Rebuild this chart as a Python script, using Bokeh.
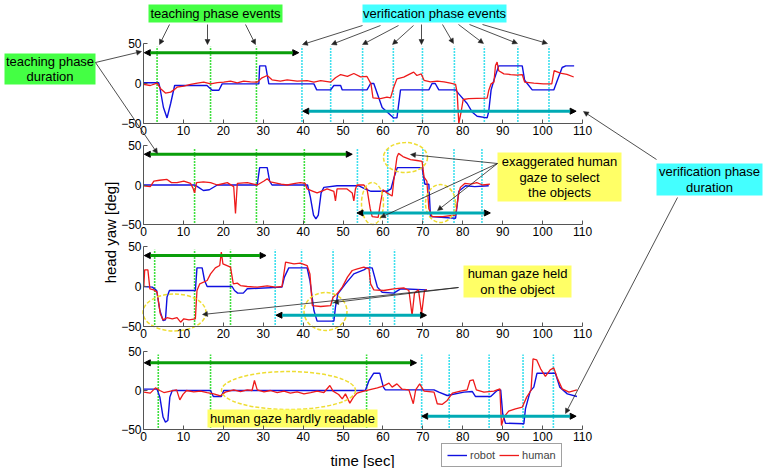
import numpy as np
from bokeh.plotting import figure
from bokeh.models import (Range1d, LinearAxis, FixedTicker, Arrow, NormalHead,
                          Legend, LegendItem)
from bokeh.core.properties import value
from bokeh.embed import file_html
from bokeh.resources import INLINE

FONT = "Liberation Sans"

# ------------------------------------------------------------------ data
x_ticks = [0, 10, 20, 30, 40, 50, 60, 70, 80, 90, 100, 110]
y_ticks = [-50, 0, 50]

# panel 1
p1_robot_t = [0, 3.8, 4.1, 5.0, 5.9, 6.8, 7.8, 15.9, 17.2, 18.9, 19.7, 28.9, 29.1, 30.6, 31.4,
              42.7, 43.4, 46.9, 47.7, 49.4, 49.8, 56.0, 56.9, 57.7, 59.8, 62.7, 63.5, 64.4,
              71.5, 72.3, 73.1, 74.0, 78.2, 79.0, 81.1, 82.4, 83.6, 86.1, 86.5, 87.1, 87.8,
              89.0, 94.9, 95.5, 97.4, 102.8, 103.7, 104.9, 105.8, 107.9]
p1_robot = [1, 1, -5, -30, -43, -25, -2.5, -2.5, -8.5, -8.5, -0.5, -0.5, 22, 22, -0.5,
            -0.5, -8, -8, -2.5, -2.5, -8, -8, 0, 0, -30, -43, -43, -8,
            -8, 0, 0, -8, -8, -13, -25, -36, -41, -43, -35, -8, 4,
            22, 22, 4, -8, -8, 4, 20, 22, 22]
p1_human_t = [0.0, 1.7, 3.4, 4.3, 5.5, 6.8, 7.6, 8.4, 10.1, 11.8, 13.5, 15.1, 16.8, 18.5, 20.1,
              21.8, 23.5, 25.1, 26.8, 28.5, 29.7, 31.0, 32.2, 34.3, 36.0, 38.5, 41.0, 42.7,
              44.4, 46.9, 48.1, 49.4, 51.1, 52.7, 54.4, 56.0, 57.0, 57.5, 59.4, 61.0, 61.9,
              62.7, 63.5, 65.2, 66.8, 67.7, 68.5, 69.6, 70.3, 71.9, 73.6, 75.3, 76.9, 78.2,
              78.6, 79.0, 79.6, 80.1, 81.5, 83.5, 86.1, 86.5, 87.1, 87.8, 88.2, 88.6, 89.0,
              90.3, 92.0, 93.6, 94.9, 95.5, 97.8, 100.2, 102.3, 102.9, 104.4, 106.1, 107.8]
p1_human = [-1.2, -2.5, 0.4, -6.5, -12, -10.8, -8, -4.6, -3.3, -1.2, 0.4, 1.7, -0.4, 1.2, 1.7,
            2.9, 0.8, 2.9, 2.1, 1.7, 7.1, 10, 4.6, 2.9, 4.6, 2.9, 3.7, 1.7,
            3.7, 1.7, 7.1, 11.2, 8.8, 12.5, 8.3, 8.8, -0.4, -18, -19, -17, -18,
            -4.6, 5.8, 7.9, 12.1, 14.2, 10, 12, 4, 2, 3, 2, 0.4, -1,
            -12, -50, -35, -20, -19, -18.5, -18.3, -8.8, -0.4, 1.7, 22.5, 26.7, 16,
            12.1, 11.2, 10.4, 11.2, 1.7, 0.4, -0.4, -0.4, 16.2, 13, 11.5, 8.1]
p1_teach_events = [3.4, 16.8, 28.3]
p1_verif_events = [39.7, 46.9, 54.9, 62.6, 69.9, 77.9, 85.4, 93.8, 101.6]
p1_teach_span = [0.2, 38.9]
p1_verif_span = [39.9, 108.4]

# panel 2
p2_robot_t = [0, 12.9, 13.8, 15.0, 16.5, 18.5, 28.5, 29.1, 31.0, 31.6, 32.2, 41.1, 41.8, 42.6,
              43.2, 43.8, 44.5, 45.2, 48.5, 54.0, 55.5, 57.0, 61.0, 62.0, 62.8, 63.6, 69.8,
              70.2, 70.5, 71.5, 71.9, 78.2, 79.0, 80.7, 83.0, 86.5]
p2_robot = [0, 0, -3, -7, -6, 0, 0, 22, 22, 5, 0, 0, -15, -38,
            -43, -38, -10, -3, -1, -1, -5, -8, -8, -5, 10, 22, 22,
            10, 1, 1, -40, -42, -8, -1, -2, -1]
p2_human_t = [0.0, 1.7, 2.6, 4.0, 5.9, 7.0, 8.4, 10.1, 11.8, 12.4, 12.8, 13.3, 15.0, 16.8, 18.5,
              21.0, 22.6, 23.05, 23.5, 26.0, 28.5, 30.2, 31.0, 31.8, 32.7, 34.5, 36.0, 38.0,
              39.3, 40.5, 41.0, 42.5, 43.5, 45.0, 46.0, 47.7, 48.1, 48.5, 51.0, 52.3, 52.7,
              53.1, 53.5, 55.2, 56.0, 56.8, 57.3, 58.8, 59.3, 60.0, 61.0, 62.3, 62.7, 63.5,
              63.9, 65.0, 66.9, 68.5, 69.8, 70.3, 71.0, 71.5, 72.3, 75.0, 78.2, 79.0, 79.4,
              80.5, 82.0, 83.5, 85.0, 86.8]
p2_human = [-1, -2, 5, 6, 7, 3, 3, 5, 2, -4, -10, 3, 4, 3, 0,
            3, -2, -36, 2, 3, 0, 5, 8, 4, 3, 1, 0, 2,
            3, 2, -5, -8, -10, -7, -5, -8, -20, -5, -5, -10, -20,
            -5, 0, 0, -5, -30, -40, -41, -25, -6, -10, -14, 5, 35,
            40, 36, 32, 31, 30, 10, 5, -30, -40, -40, -38, -10, -3,
            2, 1, 3, 0, 1]
p2_teach_events = [12.8, 28.3, 40.3]
p2_verif_events = [53.6, 61.2, 70.0, 77.8, 84.8]
p2_teach_span = [0.2, 52.3]
p2_verif_span = [53.5, 86.9]

# panel 3
p3_robot_t = [0, 2.2, 3.3, 4.1, 4.9, 5.5, 5.9, 6.5, 13.0, 13.4, 14.7, 15.3, 15.95, 22.2, 22.8,
              23.6, 25.0, 26.0, 34.7, 35.3, 36.4, 41.0, 41.7, 42.7, 43.5, 47.7, 48.1, 48.7,
              50.6, 52.7, 55.2, 56.0, 57.3, 58.6, 59.8, 62.7, 64.4, 71.0]
p3_robot = [0, -0.8, -5, -30, -42.5, -41.7, -13, -5, -5, 23.3, 23.3, 7.5, 0, 0, -5,
            -8.3, -8.3, -2.9, -0.8, 11.7, 23.3, 23.3, 7.5, -30, -43.3, -43.3, -25.8, -9.2,
            3.3, 15.8, 20.8, 23.3, 23.3, -0.8, -7.1, -8.3, -2.9, -4.2]
p3_human_t = [0.08, 0.3, 1.1, 1.6, 2.6, 3.4, 4.2, 4.9, 5.9, 7.2, 8.4, 9.3, 10.1, 11.4, 13.0,
              13.4, 14.1, 15.95, 16.8, 18.0, 19.1, 19.5, 19.9, 21.8, 22.5, 23.5, 24.3, 26.0,
              28.5, 31.0, 33.1, 34.7, 35.6, 37.7, 39.3, 41.0, 41.7, 42.3, 44.4, 46.9, 47.5,
              48.5, 49.8, 51.1, 52.3, 53.6, 55.2, 56.5, 56.9, 57.7, 60.2, 62.7, 65.2, 66.5,
              67.3, 67.9, 68.9, 69.7, 70.4, 71.0]
p3_human = [0, 20.8, 20.8, -2.9, -4.2, -7, -34, -41.7, -39, -40.4, -39, -44.6, -40.4, -41.7, -40.4,
            -5, 3.3, 7.5, 15.8, 23.3, 26.2, 42.9, 28.3, 24.2, 3.3, 4.2, 1.2, 0,
            -0.8, 0.8, -0.8, 0, 30.4, 28.3, 29.2, 26.2, 15.8, -23.8, -25, -23.8, -13.3,
            -9.2, -0.8, 11.7, 20, 22, 24.2, 22, 3.3, -4.2, -5, -3, -1.7, -5,
            -36, -8, -4.2, -34, -5, -4]
p3_teach_events = [2.8, 12.8, 21.8]
p3_verif_events = [33.0, 39.6, 47.5, 56.7, 62.9]
p3_teach_span = [0.2, 30.7]
p3_verif_span = [33.2, 70.9]

# panel 4
p4_robot_t = [0, 3.4, 4.1, 4.9, 5.5, 6.1, 6.6, 7.2, 16.8, 17.5, 19.5, 20.1, 55.6, 56.5, 57.7,
              59.2, 60.1, 60.6, 72.8, 74.0, 76.1, 80.3, 82.4, 83.2, 87.0, 88.6, 89.5, 90.0,
              90.7, 95.3, 95.7, 96.9, 97.8, 98.6, 103.2, 104.3, 106.2, 108.6]
p4_robot = [1.7, 1.7, -8.5, -34, -40.6, -38.5, -8.5, 0, 0, -7.7, -7.7, 0, 0, 12.8, 22.2,
            22.2, 4.3, 0.8, 0.8, -2.1, -6.4, -2.1, -1.3, -7.7, -7.7, 0, 0.8, -29.9,
            -41.9, -42.7, -23.5, -0.8, 4.3, 22.2, 22.2, 4.3, -4.3, -7.7]
p4_human_t = [0.08, 1.7, 3.0, 4.1, 5.1, 6.8, 8.3, 9.1, 9.9, 10.8, 12.6, 14.3, 15.95, 17.6, 19.3,
              20.5, 22.6, 24.3, 26.0, 27.2, 27.8, 28.5, 30.2, 31.8, 33.5, 35.2, 36.8, 38.5,
              40.2, 41.9, 43.5, 45.2, 46.7, 47.5, 48.9, 49.8, 50.6, 51.7, 52.6, 53.5, 55.2,
              56.5, 58.6, 60.2, 61.5, 62.3, 63.5, 64.8, 66.5, 67.6, 68.2, 69.2, 70.1, 70.3,
              72.8, 73.6, 74.8, 76.1, 77.4, 79.4, 81.1, 81.8, 82.6, 83.4, 85.3, 87.8, 89.3,
              89.7, 90.3, 91.5, 93.2, 94.9, 96.0, 97.1, 97.6, 98.5, 99.5, 100.7, 101.9, 102.8,
              103.6, 104.9, 106.6, 108.6]
p4_human = [-2.1, -3.4, 3.4, 0, -2.6, -0.8, 0.8, -12, -5, 0, -1.7, -0.8, -2.6, -4.3, -6.8,
            -2.1, 0.8, -1.3, 0.8, 0, 12.8, 0.8, -1.7, 0, -2.6, -0.8, -3.4, -1.7,
            -4.3, -2.6, -0.8, -2.6, 6.4, -0.8, -5.1, -10.7, -4.3, -16.2, -8.5, -3.4, -0.8,
            0.8, 3.4, 6, 9.4, 4.3, 8.5, 1.7, 0.8, -17, 0.8, 8.5, 0.8, -0.8,
            -2.1, -17, -17.9, -12.8, -3.4, -0.8, 0.8, 12.8, 13.7, 0.8, -2.1, -0.8, 2.1,
            -44.9, -34.2, -26.5, -23.5, -21.4, -8.5, 0, 40.6, 39.3, 27.8, 18, 26.5, 29,
            17.1, 2.1, -2.1, 0.8]
p4_teach_events = [3.7, 16.8, 55.9]
p4_verif_events = [69.7, 76.6, 86.6, 95.1, 102.7]
p4_teach_span = [0.2, 68.4]
p4_verif_span = [69.7, 108.4]

panels = [
    (p1_robot_t, p1_robot, p1_human_t, p1_human, p1_teach_events, p1_verif_events, p1_teach_span, p1_verif_span),
    (p2_robot_t, p2_robot, p2_human_t, p2_human, p2_teach_events, p2_verif_events, p2_teach_span, p2_verif_span),
    (p3_robot_t, p3_robot, p3_human_t, p3_human, p3_teach_events, p3_verif_events, p3_teach_span, p3_verif_span),
    (p4_robot_t, p4_robot, p4_human_t, p4_human, p4_teach_events, p4_verif_events, p4_teach_span, p4_verif_span),
]

# ------------------------------------------------------------------ layout (page pixels)
PX0, PX1, PY0, PY1 = 0, 765, 0, 468        # canvas in page pixels
X_ZERO, X_PER = 143.0, 3.991               # t axis: pixel of t=0, px per second
PANEL_Y = [(83.0, 0.80), (184.5, 0.79), (286.0, 0.80), (390.0, 0.78)]  # pixel of 0, px/deg
TEACH_Y = [38.5, 38.9, 38.7, 35.5]
VERIF_Y = [-34.6, -35.4, -35.9, -33.0]

BLUE = "#1010e0"
RED = "#ee1a1a"
AX = "#555555"
G_EV = "#3fe03f"
C_EV = "#3fe0ee"
G_AR = "#0a9e0a"
C_AR = "#00aab4"
G_BOX = "#44ff44"
C_BOX = "#44ffff"
Y_BOX = "#ffff66"
ELL = "#eedd33"

p = figure(width=PX1 - PX0, height=PY1 - PY0, output_backend="svg", toolbar_location=None,
           x_range=Range1d(PX0, PX1), y_range=Range1d(PY1, PY0),
           x_axis_type=None, y_axis_type=None, min_border=0)
p.outline_line_color = None
p.background_fill_color = "white"
p.border_fill_color = "white"

p.extra_x_ranges = {"t": Range1d((PX0 - X_ZERO) / X_PER, (PX1 - X_ZERO) / X_PER)}
for i, (y0, k) in enumerate(PANEL_Y):
    p.extra_y_ranges[f"p{i}"] = Range1d((y0 - PY1) / k, (y0 - PY0) / k)

legend_r = []
for i, (rt, rv, ht, hv, tev, vev, tsp, vsp) in enumerate(panels):
    yn = f"p{i}"
    xa = LinearAxis(x_range_name="t", y_range_name=yn, fixed_location=-50, bounds=(0, 110),
                    ticker=FixedTicker(ticks=x_ticks))
    ya = LinearAxis(x_range_name="t", y_range_name=yn, fixed_location=0, bounds=(-50, 50),
                    ticker=FixedTicker(ticks=y_ticks))
    for a in (xa, ya):
        a.axis_line_color = AX
        a.major_tick_line_color = AX
        a.major_tick_in = 4
        a.major_tick_out = 0
        a.minor_tick_line_color = None
        a.major_label_text_font = FONT
        a.major_label_text_font_size = "12px"
        a.major_label_text_color = "black"
        a.major_label_standoff = 2
    p.add_layout(xa, "below")
    p.add_layout(ya, "left")

    # event lines
    p.segment(x0=tev, x1=tev, y0=-48, y1=46, x_range_name="t", y_range_name=yn,
              line_color=G_EV, line_width=1.6, line_dash="2 1")
    p.segment(x0=vev, x1=vev, y0=-48, y1=46, x_range_name="t", y_range_name=yn,
              line_color=C_EV, line_width=1.6, line_dash="2 1")

    rr = p.line(rt, rv, x_range_name="t", y_range_name=yn, line_color=BLUE, line_width=1.4)
    rh = p.line(ht, hv, x_range_name="t", y_range_name=yn, line_color=RED, line_width=1.3)
    if i == 0:
        legend_r = [rr, rh]

    # duration arrows
    for span, yy, col in ((tsp, TEACH_Y[i], G_AR), (vsp, VERIF_Y[i], C_AR)):
        p.add_layout(Arrow(x_start=span[0], x_end=span[1], y_start=yy, y_end=yy,
                           x_range_name="t", y_range_name=yn,
                           line_color=col, line_width=3,
                           start=NormalHead(size=6, fill_color="black", line_color="black", line_width=1),
                           end=NormalHead(size=6, fill_color="black", line_color="black", line_width=1)))

# ------------------------------------------------------------------ annotations (page pixels)
ellipses = [(405, 157, 44, 30), (372, 203, 22, 42), (440, 203, 30, 38),
            (174, 312, 63, 37), (325, 311, 43, 38), (288, 390, 134, 38)]
p.ellipse(x=[e[0] for e in ellipses], y=[e[1] for e in ellipses],
          width=[e[2] for e in ellipses], height=[e[3] for e in ellipses],
          width_units="screen", height_units="screen",
          fill_color=None, line_color=ELL, line_width=1.5, line_dash="4 2")

boxes = [
    # left, right, top, bottom, color, lines, line y's, center x
    (4, 95, 53, 84, G_BOX, ["teaching phase", "duration"], [61, 76], 49.5),
    (148, 282, 4, 22, G_BOX, ["teaching phase events"], [13], 215),
    (362, 506, 4, 22, C_BOX, ["verification phase events"], [13], 434),
    (497, 621, 152, 201, Y_BOX, ["exaggerated human", "gaze to select", "the objects"], [161, 177, 192], 559),
    (463, 571, 265, 297, Y_BOX, ["human gaze held", "on the object"], [273, 289], 517),
    (207, 377, 409, 427, Y_BOX, ["human gaze hardly readable"], [418], 292),
    (656, 762, 163, 195, C_BOX, ["verification phase", "duration"], [171, 187], 709),
]
for l, r, t, b, col, lines, ys, cx in boxes:
    p.quad(left=l, right=r, top=t, bottom=b, fill_color=col, line_color=None)
    p.text(x=[cx] * len(lines), y=ys, text=lines, text_align="center", text_baseline="middle",
           text_font=value(FONT), text_font_size="13px", text_color="black")

pointers = [
    (95, 62, 141, 51), (95, 62, 157, 153),
    (169, 24, 159, 44), (207, 24, 207, 44), (245, 24, 255, 44),
    (362, 25, 302, 44), (380, 25, 331, 44), (398, 25, 362, 44), (413, 25, 392, 44),
    (421, 24, 421, 44), (442, 24, 453, 43), (458, 24, 483, 43), (469, 24, 517, 43), (482, 24, 547, 43),
    (497, 163, 410, 154), (497, 163, 380, 217), (497, 163, 437, 210),
    (458, 287, 202, 314), (458, 287, 333, 302),
    (656, 159, 583, 111), (677, 197, 565, 413),
]
for x0, y0, x1, y1 in pointers:
    p.add_layout(Arrow(x_start=x0, y_start=y0, x_end=x1, y_end=y1, line_color="#222222", line_width=0.8,
                       end=NormalHead(size=5, fill_color="#222222", line_color="#222222", line_width=0.5)))

# axis titles
p.text(x=[110], y=[232], text=["head yaw [deg]"], angle=np.pi / 2, text_align="center",
       text_baseline="middle", text_font=value(FONT), text_font_size="15px", text_color="black")
p.text(x=[362], y=[460], text=["time [sec]"], text_align="center", text_baseline="middle",
       text_font=value(FONT), text_font_size="15px", text_color="black")

legend = Legend(items=[LegendItem(label="robot", renderers=[legend_r[0]]),
                       LegendItem(label="human", renderers=[legend_r[1]])],
                location=(441, 1), orientation="horizontal",
                label_text_font=FONT, label_text_font_size="11px",
                glyph_width=20, glyph_height=12, label_height=12, label_width=20,
                label_standoff=3, spacing=4, padding=5, margin=0,
                border_line_color="#444444", border_line_width=1,
                background_fill_color="white", background_fill_alpha=1)
p.add_layout(legend)

open("out.html", "w").write(file_html(p, INLINE))
